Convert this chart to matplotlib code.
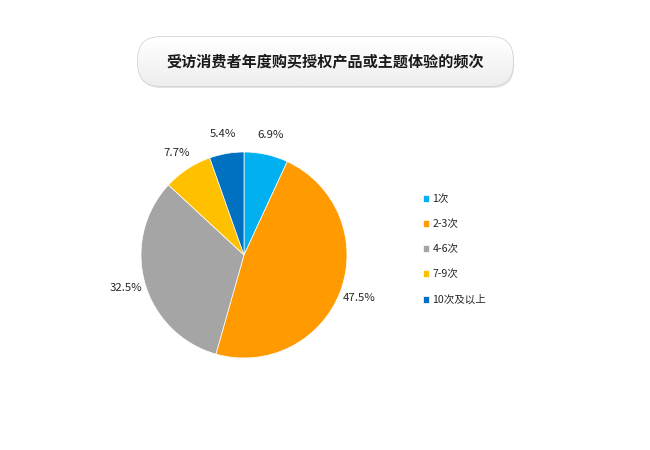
import matplotlib.pyplot as plt
import numpy as np
from matplotlib.patches import FancyBboxPatch

plt.rcParams['font.family'] = ['Noto Sans CJK SC', 'DejaVu Sans']

title = '受访消费者年度购买授权产品或主题体验的频次'
categories = ['1次', '2-3次', '4-6次', '7-9次', '10次及以上']
shares = [6.9, 47.5, 32.5, 7.7, 5.4]
colors = ['#00B0F0', '#FF9A00', '#A5A5A5', '#FFC000', '#0070C0']

W, H = 650, 450
fig = plt.figure(figsize=(6.5, 4.5), dpi=100)

# title box (pixel coords, top origin)
bg = fig.add_axes([0, 0, 1, 1])
bg.set_xlim(0, W)
bg.set_ylim(H, 0)
bg.axis('off')
x0, y0, x1, y1 = 138, 37, 513, 86
shadow = FancyBboxPatch((x0 + 1, y0 + 2), x1 - x0, y1 - y0,
                        boxstyle='round,pad=0,rounding_size=22',
                        fc='#E4E4E4', ec='none', zorder=1)
bg.add_patch(shadow)
box = FancyBboxPatch((x0, y0), x1 - x0, y1 - y0,
                     boxstyle='round,pad=0,rounding_size=22',
                     fc='#F6F6F6', ec='#CFCFCF', lw=1.0, zorder=2)
bg.add_patch(box)
grad = np.linspace(1.0, 0.93, 100).reshape(-1, 1)
im = bg.imshow(grad, cmap='gray', vmin=0, vmax=1, extent=(x0, x1, y1, y0),
               aspect='auto', zorder=3)
im.set_clip_path(box)
bg.text((x0 + x1) / 2, (y0 + y1) / 2 + 1, title, ha='center', va='center',
        fontsize=10.9, fontweight='bold', color='#1A1A1A', zorder=4)

# pie
cx, cy, r = 244, 255, 103
ax = fig.add_axes([(cx - r) / W, (H - cy - r) / H, 2 * r / W, 2 * r / H])
wedges, texts, autotexts = ax.pie(
    shares, colors=colors, startangle=90, counterclock=False,
    autopct='%.1f%%', pctdistance=1.19,
    wedgeprops=dict(edgecolor='white', linewidth=0.5),
    textprops=dict(fontsize=8.2, color='#262626'))
ax.set_xlim(-1, 1)
ax.set_ylim(-1, 1)
ax.set_aspect('equal')

fig.legend(wedges, categories, loc='upper left',
           bbox_to_anchor=(413 / W, 1 - 185 / H), frameon=False,
           fontsize=7.6, handlelength=0.65, handleheight=0.65,
           handletextpad=0.3, labelspacing=1.42, labelcolor='#262626')

fig.savefig('out.png', dpi=100, facecolor='white')
